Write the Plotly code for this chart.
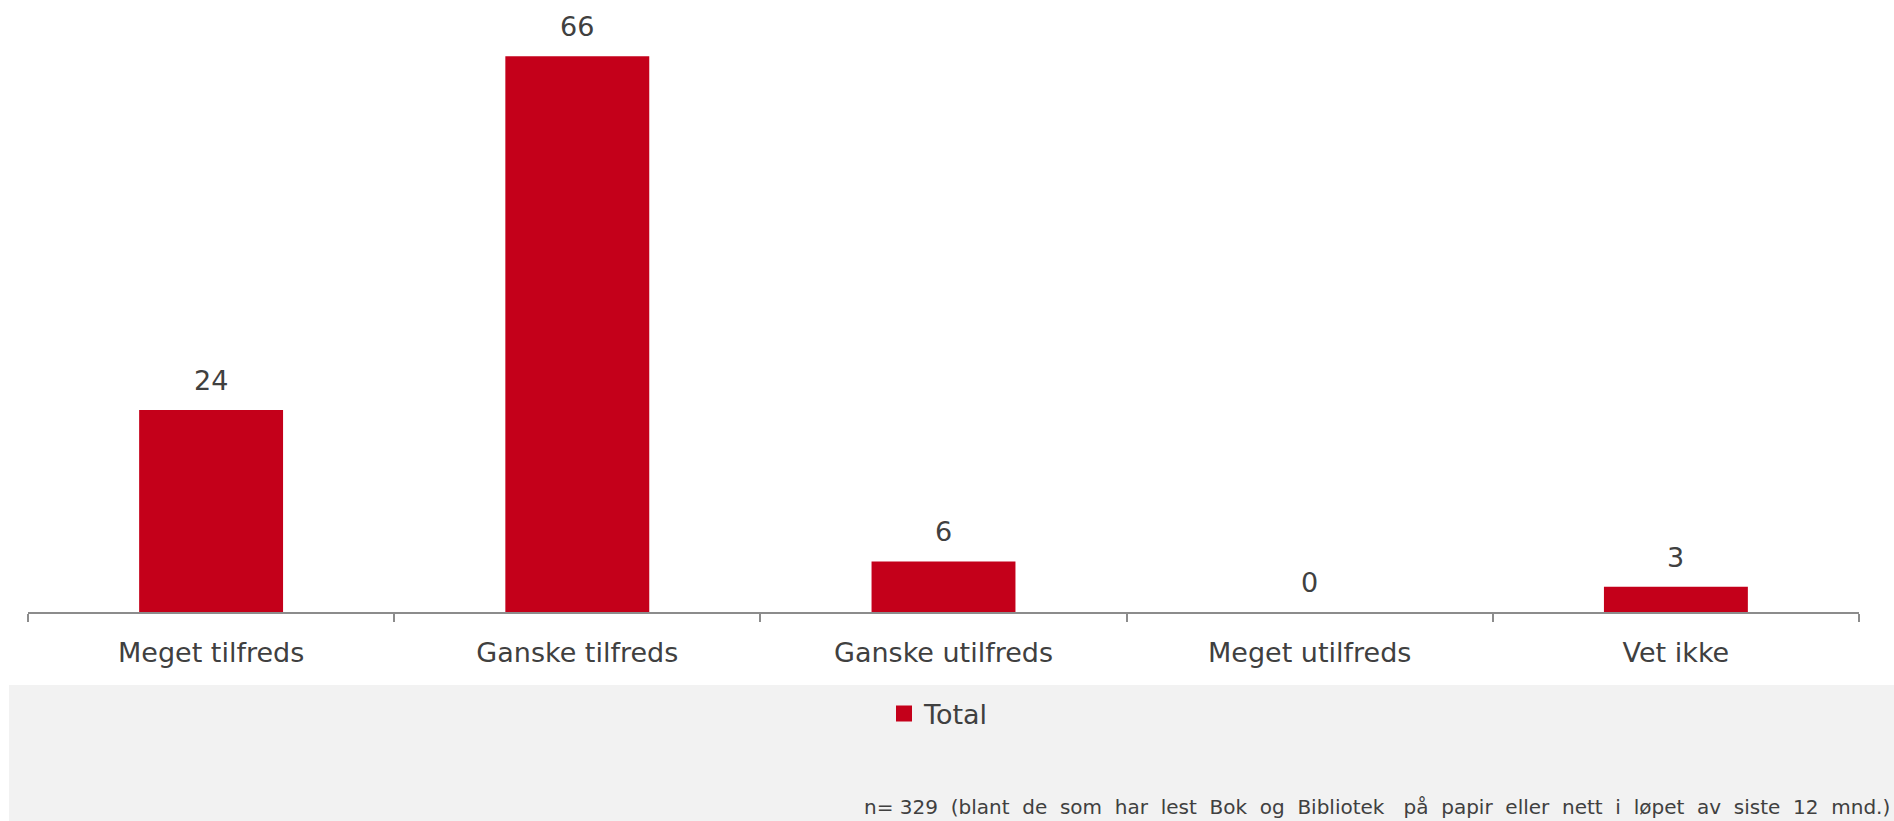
import plotly.graph_objects as go

# Satisfaction with "Bok og Bibliotek" (percent)
categories = ["Meget tilfreds", "Ganske tilfreds", "Ganske utilfreds", "Meget utilfreds", "Vet ikke"]
values = [24, 66, 6, 0, 3]
series_name = "Total"
footnote = "n= 329  (blant  de  som  har  lest  Bok  og  Bibliotek   på  papir  eller  nett  i  løpet  av  siste  12  mnd.)"

W, H = 1894, 821
M_L, M_R, M_T, M_B = 28, 35, 0, 209
PLOT_W = W - M_L - M_R
PLOT_H = H - M_T - M_B

RED = "#C4001A"
TEXT = "#404040"
AXIS = "#8C8C8C"
FONT = "DejaVu Sans"


def px_x(x):
    return (x - M_L) / PLOT_W


def px_y(y):
    return (M_T + PLOT_H - y) / PLOT_H


fig = go.Figure()
fig.add_trace(go.Bar(
    x=categories,
    y=values,
    name=series_name,
    marker=dict(color=RED, line=dict(width=0)),
    width=0.393,
    showlegend=False,
))

# legend entry with a larger square swatch
fig.add_trace(go.Scatter(
    x=[None], y=[None],
    mode="markers",
    name=series_name,
    marker=dict(symbol="square", size=17, color=RED, line=dict(width=0)),
    showlegend=True,
    hoverinfo="skip",
))

# value labels above each bar
for c, v in zip(categories, values):
    fig.add_annotation(
        x=c, y=v, xref="x", yref="y",
        text=str(v), showarrow=False,
        yanchor="bottom", yshift=12,
        font=dict(family=FONT, size=27, color=TEXT),
    )

# grey band behind the legend and the footnote
fig.add_shape(
    type="rect", xref="paper", yref="paper",
    x0=px_x(9), x1=px_x(W), y0=px_y(H), y1=px_y(685),
    fillcolor="#F2F2F2", line=dict(width=0), layer="below",
)

fig.add_annotation(
    x=px_x(1892), y=px_y(807), xref="paper", yref="paper",
    text=footnote, showarrow=False,
    xanchor="right", yanchor="middle",
    font=dict(family=FONT, size=20, color=TEXT),
)

fig.update_layout(
    width=W, height=H,
    margin=dict(l=M_L, r=M_R, t=M_T, b=M_B, pad=0),
    paper_bgcolor="white",
    plot_bgcolor="rgba(0,0,0,0)",
    font=dict(family=FONT, color=TEXT),
    legend=dict(
        orientation="h",
        x=px_x(884), xanchor="left",
        y=px_y(714), yanchor="middle",
        bgcolor="rgba(0,0,0,0)",
        itemsizing="trace",
        font=dict(family=FONT, size=27, color=TEXT),
    ),
    xaxis=dict(
        type="category",
        range=[-0.5, 4.5],
        showline=True, linecolor=AXIS, linewidth=2,
        ticks="outside", tickson="boundaries",
        ticklen=8, tickwidth=2, tickcolor=AXIS,
        ticklabelstandoff=16,
        showgrid=False, zeroline=False,
        tickfont=dict(family=FONT, size=27, color=TEXT),
    ),
    yaxis=dict(
        range=[0, PLOT_H / 8.42],
        visible=False, showgrid=False, zeroline=False,
    ),
)

fig.write_html("out.html")
